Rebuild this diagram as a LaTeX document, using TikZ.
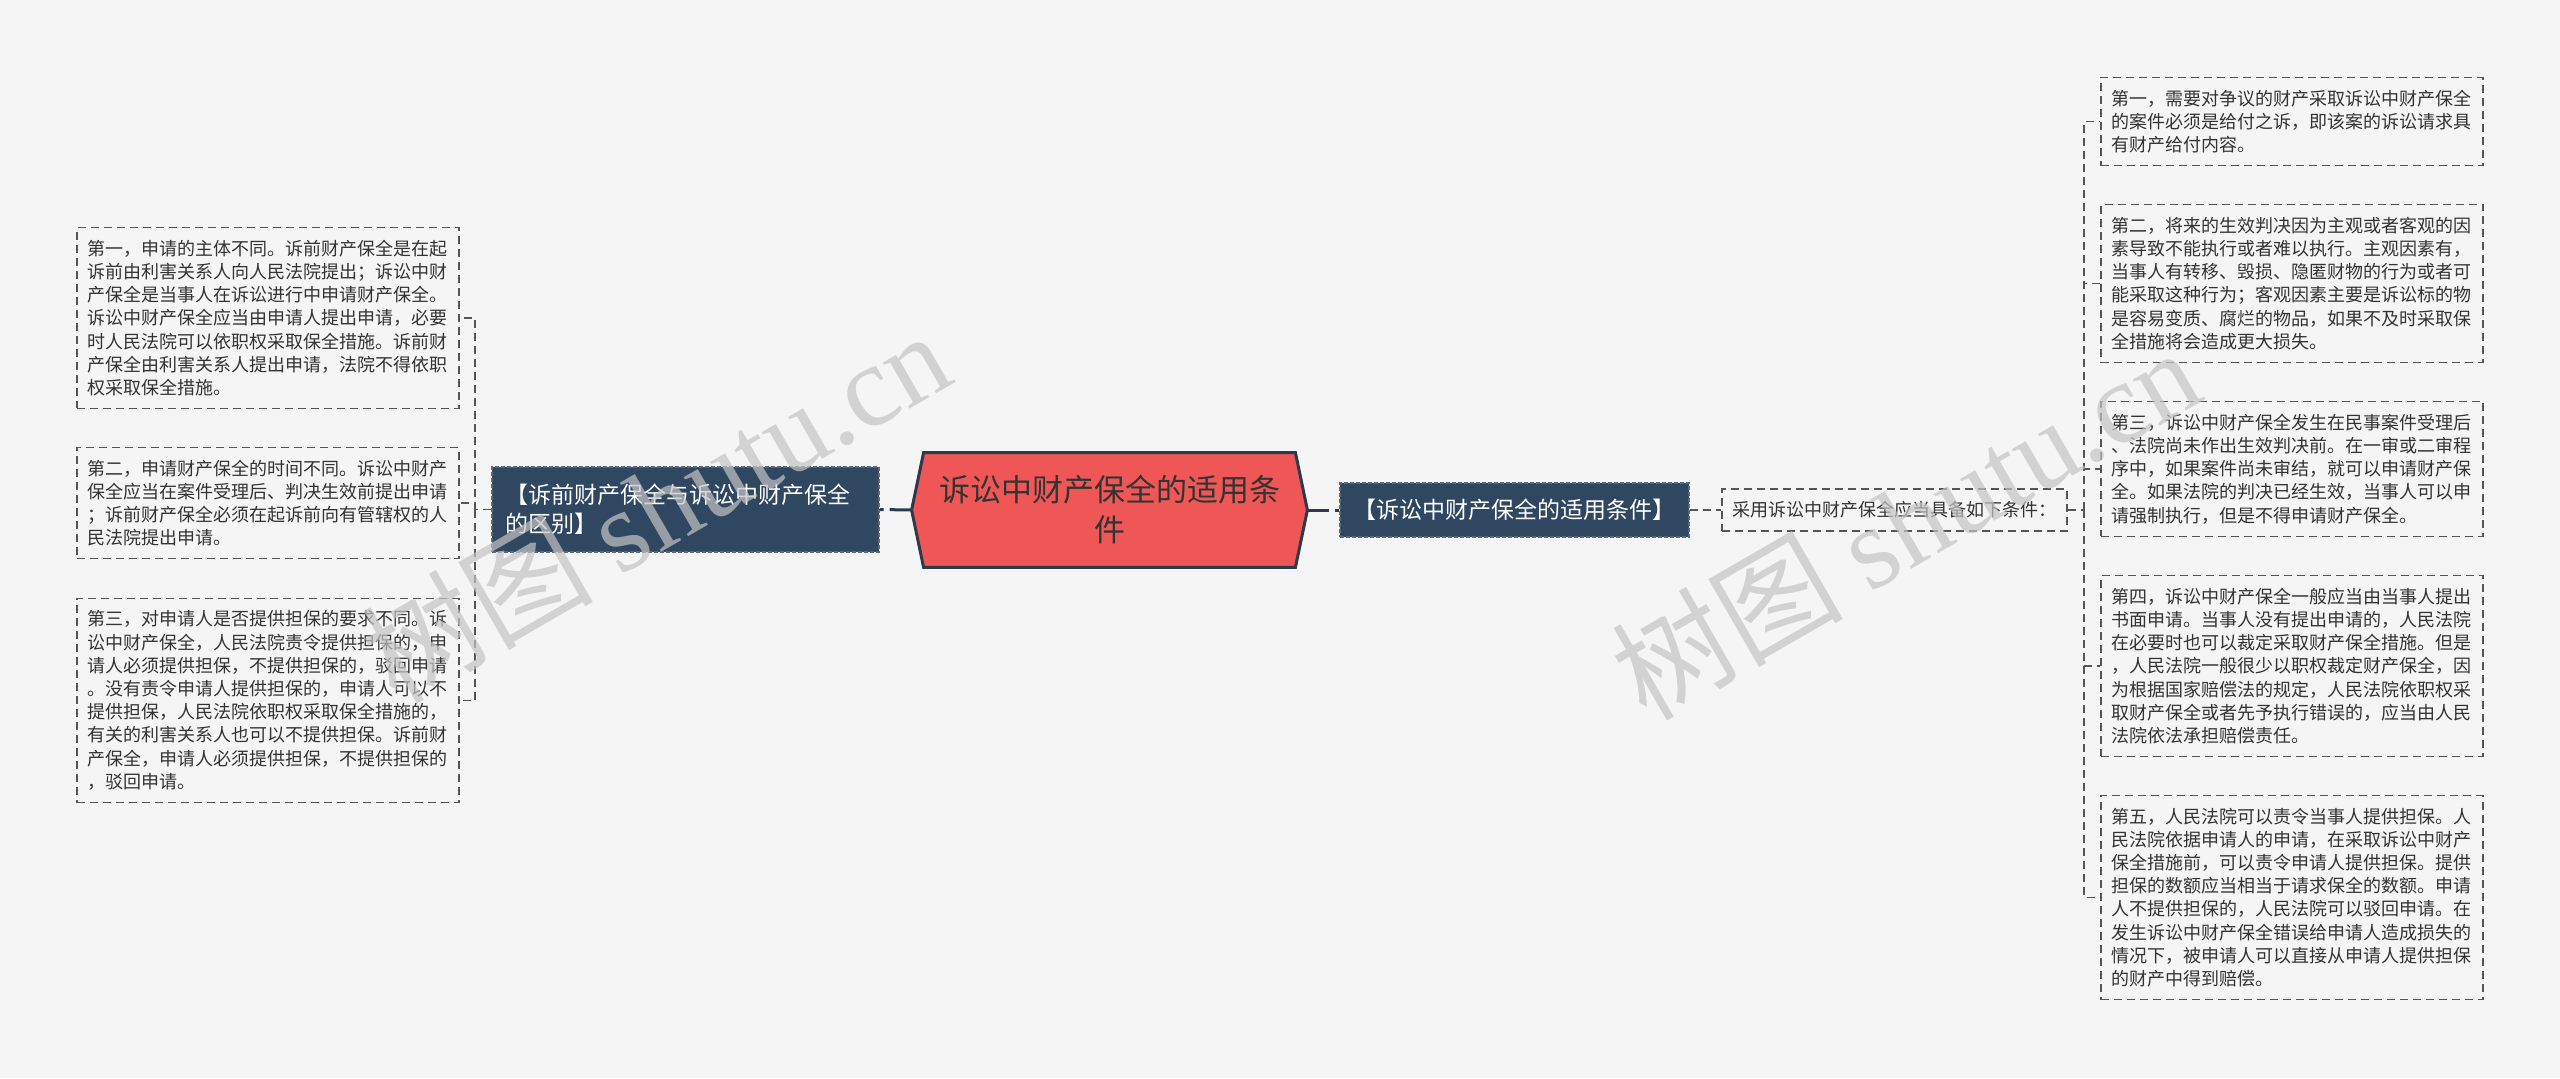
\documentclass[tikz,border=0pt]{standalone}
\usepackage{fontspec}
\setmainfont{Noto Sans CJK SC}
\newfontfamily\wmlatin{Liberation Serif}
\usepackage{xcolor}
\usepackage{tikz}
\usetikzlibrary{backgrounds}
\definecolor{pagebg}{HTML}{F5F5F5}
\definecolor{mainred}{HTML}{EF5757}
\definecolor{navy}{HTML}{2F4760}
\definecolor{edge}{HTML}{2C3A4C}
\definecolor{leafline}{HTML}{555555}
\definecolor{leaftext}{HTML}{333333}
\definecolor{wmgrey}{HTML}{C4C4C4}

\tikzset{
  leaf/.style={draw=leafline, line width=0.8pt, dash pattern=on 4pt off 2.5pt,
    text width=181pt, align=left, inner xsep=5pt, inner ysep=6.2pt,
    font=\fontsize{9}{11.6}\selectfont, text=leaftext},
  note/.style={draw=leafline, line width=0.8pt, dash pattern=on 4pt off 2.5pt,
    minimum width=172.5pt, minimum height=21pt, inner sep=0pt,
    font=\fontsize{9}{11}\selectfont, text=leaftext},
  branch/.style={fill=navy, draw=gray!60!navy, line width=0.6pt, dash pattern=on 2pt off 1pt,
    text=white, font=\fontsize{11.5}{14.5}\selectfont},
  mainbox/.style={minimum width=197.5pt, minimum height=57pt, inner sep=0pt, align=center,
    font=\fontsize{15.5}{20}\selectfont, text=leaftext},
  link/.style={draw=leafline, line width=0.8pt, dash pattern=on 4pt off 2.5pt},
  trunk/.style={draw=edge, line width=1.5pt, dash pattern=on 11pt off 3pt},
  watermark/.style={rotate=30, text=wmgrey, text opacity=0.7, font=\fontsize{58}{58}\selectfont},
}

\begin{document}
\begin{tikzpicture}[x=0.5pt, y=-0.5pt]
  \useasboundingbox (0,0) rectangle (2560,1078);

  \node[mainbox] (main) at (1109.5,510) {诉讼中财产保全的适用条\\件};
  \begin{scope}[on background layer]
    \fill[pagebg] (0,0) rectangle (2560,1078);
    \draw[fill=mainred, draw=edge, line width=1.5pt] (main.west) -- ([xshift=6pt]main.north west)
      -- ([xshift=-6pt]main.north east) -- (main.east) -- ([xshift=-6pt]main.south east)
      -- ([xshift=6pt]main.south west) -- cycle;
  \end{scope}

  % left side
  \node[branch, text width=180pt, align=left, inner xsep=6.75pt, minimum height=42.5pt] (lb) at (685.5,509.5)
    {【诉前财产保全与诉讼中财产保全\\的区别】};
  \node[leaf] (l1) at (268,318) {第一，申请的主体不同。诉前财产保全是在起\\诉前由利害关系人向人民法院提出；诉讼中财\\产保全是当事人在诉讼进行中申请财产保全。\\诉讼中财产保全应当由申请人提出申请，必要\\时人民法院可以依职权采取保全措施。诉前财\\产保全由利害关系人提出申请，法院不得依职\\权采取保全措施。};
  \node[leaf] (l2) at (268,503) {第二，申请财产保全的时间不同。诉讼中财产\\保全应当在案件受理后、判决生效前提出申请\\；诉前财产保全必须在起诉前向有管辖权的人\\民法院提出申请。};
  \node[leaf] (l3) at (268,700.5) {第三，对申请人是否提供担保的要求不同。诉\\讼中财产保全，人民法院责令提供担保的，申\\请人必须提供担保，不提供担保的，驳回申请\\。没有责令申请人提供担保的，申请人可以不\\提供担保，人民法院依职权采取保全措施的，\\有关的利害关系人也可以不提供担保。诉前财\\产保全，申请人必须提供担保，不提供担保的\\，驳回申请。};

  % right side
  \node[branch, minimum width=174.5pt, minimum height=27pt, inner xsep=0pt] (rb) at (1514.5,510)
    {【诉讼中财产保全的适用条件】};
  \node[note] (cond) at (1894.5,510) {采用诉讼中财产保全应当具备如下条件：};
  \node[leaf] (r1) at (2292,121.5) {第一，需要对争议的财产采取诉讼中财产保全\\的案件必须是给付之诉，即该案的诉讼请求具\\有财产给付内容。};
  \node[leaf] (r2) at (2292,283.5) {第二，将来的生效判决因为主观或者客观的因\\素导致不能执行或者难以执行。主观因素有，\\当事人有转移、毁损、隐匿财物的行为或者可\\能采取这种行为；客观因素主要是诉讼标的物\\是容易变质、腐烂的物品，如果不及时采取保\\全措施将会造成更大损失。};
  \node[leaf] (r3) at (2292,469) {第三，诉讼中财产保全发生在民事案件受理后\\、法院尚未作出生效判决前。在一审或二审程\\序中，如果案件尚未审结，就可以申请财产保\\全。如果法院的判决已经生效，当事人可以申\\请强制执行，但是不得申请财产保全。};
  \node[leaf] (r4) at (2292,666) {第四，诉讼中财产保全一般应当由当事人提出\\书面申请。当事人没有提出申请的，人民法院\\在必要时也可以裁定采取财产保全措施。但是\\，人民法院一般很少以职权裁定财产保全，因\\为根据国家赔偿法的规定，人民法院依职权采\\取财产保全或者先予执行错误的，应当由人民\\法院依法承担赔偿责任。};
  \node[leaf] (r5) at (2292,897.5) {第五，人民法院可以责令当事人提供担保。人\\民法院依据申请人的申请，在采取诉讼中财产\\保全措施前，可以责令申请人提供担保。提供\\担保的数额应当相当于请求保全的数额。申请\\人不提供担保的，人民法院可以驳回申请。在\\发生诉讼中财产保全错误给申请人造成损失的\\情况下，被申请人可以直接从申请人提供担保\\的财产中得到赔偿。};

  % connectors
  \draw[trunk] (main.west) -- (lb.east);
  \draw[trunk] (main.east) -- (rb.west);
  \coordinate (lj) at (475,509.5);
  \draw[link] (lb.west) -- (lj);
  \foreach \n in {l1, l2, l3}
    \draw[link] (lj) |- (\n.east);
  \draw[link] (rb.east) -- (cond.west);
  \coordinate (rj) at (2084,510);
  \draw[link] (cond.east) -- (rj);
  \foreach \n in {r1, r2, r3, r4, r5}
    \draw[link] (rj) |- (\n.west);

  \node[watermark] (wm1) at (655,505) {树图 {\wmlatin shutu.cn}};
  \node[watermark] (wm2) at (1905,522) {树图 {\wmlatin shutu.cn}};
\end{tikzpicture}
\end{document}
